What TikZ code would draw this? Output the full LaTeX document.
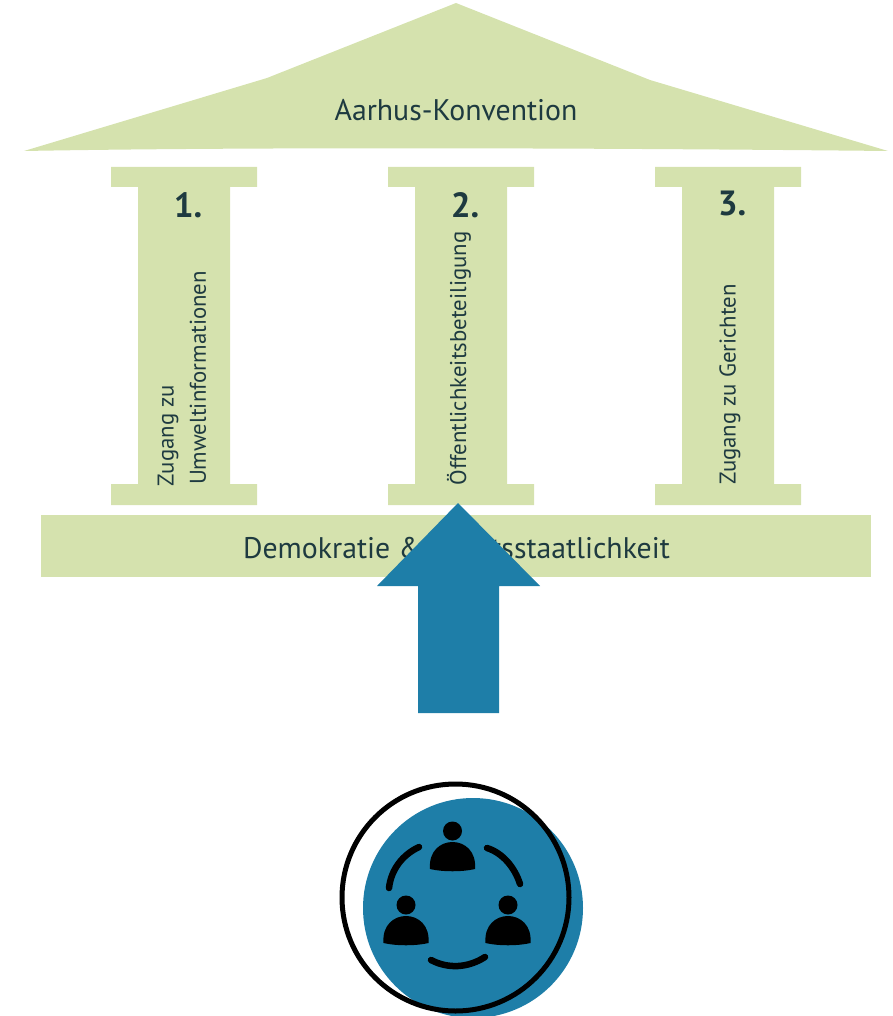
\documentclass[tikz,border=0pt]{standalone}
\usepackage{fontspec}
\setmainfont{PT Sans}
\definecolor{sage}{HTML}{D5E2AE}
\definecolor{ink}{HTML}{1E3A40}
\definecolor{teal}{HTML}{1E7EA8}
\tikzset{
  x=1pt,y=-1pt,
  stone/.style={fill=sage,draw=none},
  lab/.style={text=ink,inner sep=0pt,font=\fontsize{29.8}{34}\selectfont},
  collab/.style={text=ink,inner sep=0pt,rotate=90,font=\fontsize{22.8}{26}\selectfont},
  numlab/.style={text=ink,inner sep=0pt,font=\fontsize{35}{40}\selectfont\bfseries},
  hand/.style={draw=black,line width=6.5pt,line cap=round},
}
\newcommand{\pillar}[1]{%
  \fill[stone] (#1,167) -- ++(146,0) -- ++(0,20) -- ++(-27,0) -- ++(0,297) -- ++(27,0) -- ++(0,21)
    -- ++(-146,0) -- ++(0,-21) -- ++(27,0) -- ++(0,-297) -- ++(-27,0) -- cycle;}
\newcommand{\person}[2]{%
  \fill[black] (#1,#2-14) circle (9.5);
  \fill[black] (#1-22.5,#2+24) .. controls (#1-24,#2+6) and (#1-12,#2-3) .. (#1,#2-3)
    .. controls (#1+12,#2-3) and (#1+24,#2+6) .. (#1+22.5,#2+24)
    .. controls (#1+10,#2+27) and (#1-10,#2+27) .. (#1-22.5,#2+24) -- cycle;}
\begin{document}
\begin{tikzpicture}
\useasboundingbox (0,0) rectangle (892,1016);
% roof
\fill[stone] (24,151) -- (267,78) -- (456,3) -- (650,80) -- (888,151)
  .. controls (700,149) and (300,146) .. (24,151) -- cycle;
\node[lab] (roof) at (456,110) {Aarhus-Konvention};
% pillars
\pillar{111}\pillar{388}\pillar{655}
\node[numlab] (n1) at (188,205) {1.};
\node[numlab] (n2) at (465,205) {2.};
\node[numlab] (n3) at (732,203) {3.};
\node[collab] (t1a) at (168,435.5) {Zugang zu};
\node[collab] (t1b) at (198,378) {Umweltinformationen};
\node[collab] (t2) at (459,358.5) {Öffentlichkeitsbeteiligung};
\node[collab] (t3) at (730,384.5) {Zugang zu Gerichten};
% base
\fill[stone] (41,515) rectangle (871,577);
\node[lab] (base) at (456.5,548) {Demokratie \& Rechtsstaatlichkeit};
% arrow
\fill[teal] (458,503) -- (540,586) -- (499,586) -- (499,713) -- (418,713) -- (418,586) -- (377,586) -- cycle;
% emblem
\fill[teal] (473,908) circle (110);
\draw[black,line width=5pt] (455.5,897.5) circle (113.5);
\person{452.5}{845}
\person{406}{919}
\person{508}{919}
\draw[hand] (419,847) .. controls (402,855) and (391,870) .. (389,888);
\draw[hand] (487,848) .. controls (503,853) and (515,868) .. (520,884);
\draw[hand] (431,960) .. controls (448,969) and (468,968) .. (485,957);
\end{tikzpicture}
\end{document}
